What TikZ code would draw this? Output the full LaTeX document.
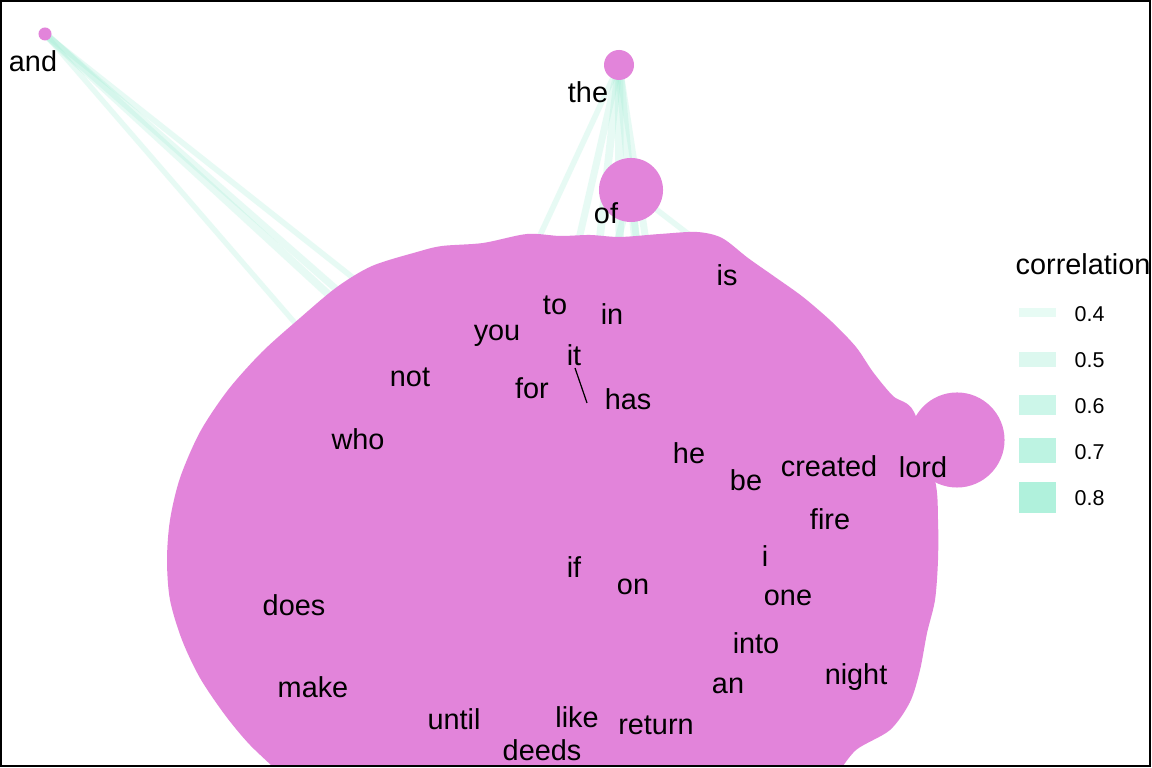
\documentclass[tikz,border=0pt]{standalone}
\usepackage{fontspec}
\setmainfont{Liberation Sans}
\definecolor{blob}{RGB}{226,132,218}
\definecolor{mint}{RGB}{150,236,208}
\definecolor{keyA}{RGB}{231,251,244}
\definecolor{keyB}{RGB}{220,248,239}
\definecolor{keyC}{RGB}{204,246,233}
\definecolor{keyD}{RGB}{189,243,226}
\definecolor{keyE}{RGB}{176,241,220}
\pgfdeclarelayer{bg}
\pgfdeclarelayer{edgelayer}
\pgfsetlayers{bg,edgelayer,main}
\begin{document}
\begin{tikzpicture}[x=0.01cm,y=-0.01cm,
    lbl/.style={font=\fontsize{8.2}{9.5}\selectfont, inner sep=0pt},
    keylbl/.style={font=\fontsize{6.1}{7}\selectfont, anchor=west, inner sep=0pt},
    vtx/.style={circle, fill=blob, inner sep=0pt, minimum size=#1},
    lnk/.style={draw=mint, line width=#1, draw opacity=0.22}]
    \useasboundingbox (0,0) rectangle (1152,768);
		\begin{pgfonlayer}{bg}
			\fill[white] (0,0) rectangle (1152,768);
		\end{pgfonlayer}
		% hidden ends inside the big cluster
		\coordinate (h1) at (419,330);
		\coordinate (h2) at (378,340);
		\coordinate (h3) at (327,360);
		\coordinate (h4) at (400,345);
		\coordinate (t1) at (510,300);
		\coordinate (t2) at (565,300);
		\coordinate (t3) at (593,300);
		\coordinate (t4) at (620,300);
		\coordinate (t5) at (641,300);
		\coordinate (t6) at (655,300);
		\coordinate (o1) at (722,260);
		\coordinate (o2) at (610,270);
		\coordinate (o3) at (640,270);
		% the merged cluster
		\begin{scope}
			\clip (1,1) rectangle (1150,766);
			\fill[blob] plot[smooth, tension=0.5] coordinates {
				(282,775) (250,745) (225,715) (200,678) (182,640) (170,600)
				(167,560) (170,520) (180,478) (200,432) (228,390) (262,352)
				(300,318) (337,287) (372,266) (417,252) (442,246) (483,243)
				(527,234) (560,236) (590,235) (620,237) (660,234) (697,232)
				(722,238) (748,258) (775,277) (803,297) (832,322) (856,347)
				(873,372) (893,396) (914,412) (935,480) (938,520) (938,560)
				(935,600) (927,633) (920,670) (910,702) (890,730) (856,750)
				(837,775)} -- (837,800) -- (282,800) -- cycle;
			\node[vtx=0.95cm] (vlord) at (957,440) {};
		\end{scope}
		\node[vtx=0.13cm] (vand) at (45,34) {};
		\node[vtx=0.30cm] (vthe) at (619,65) {};
		\node[vtx=0.64cm] (vof) at (631,190) {};
		% edges
		\begin{pgfonlayer}{edgelayer}
			\path[lnk=1.6pt] (vand.center) edge (h1);
			\path[lnk=2.2pt] (vand.center) edge (h2);
			\path[lnk=2pt] (vand.center) edge (h4);
			\path[lnk=1.5pt] (vand.center) edge (h3);
			\path[lnk=1.6pt] (vthe.center) edge (t1);
			\path[lnk=2pt] (vthe.center) edge (t2);
			\path[lnk=2.2pt] (vthe.center) edge (t3);
			\path[lnk=2.4pt] (vthe.center) edge (t4);
			\path[lnk=2.4pt] (vthe.center) edge (t5);
			\path[lnk=2pt] (vthe.center) edge (t6);
			\path[lnk=1.6pt] (vof.center) edge (o1);
			\path[lnk=2pt] (vof.center) edge (o2);
			\path[lnk=2pt] (vof.center) edge (o3);
		\end{pgfonlayer}
		% short link inside the cluster
		\coordinate (itA) at (575,368);
		\coordinate (itB) at (587,403);
		\path[draw=black, line width=0.35pt] (itA) edge (itB);
		% word labels
		\node[lbl] (and) at (33,61) {and};
		\node[lbl] (the) at (588,92) {the};
		\node[lbl] (of) at (606,213) {of};
		\node[lbl] (is) at (727,275) {is};
		\node[lbl] (to) at (555,305) {to};
		\node[lbl] (in) at (612,314) {in};
		\node[lbl] (you) at (497,336) {you};
		\node[lbl] (it) at (574,355) {it};
		\node[lbl] (not) at (410,377) {not};
		\node[lbl] (for) at (532,388) {for};
		\node[lbl] (has) at (628,399) {has};
		\node[lbl] (who) at (358,439) {who};
		\node[lbl] (he) at (689,453) {he};
		\node[lbl] (be) at (746,480) {be};
		\node[lbl] (created) at (829,466) {created};
		\node[lbl] (lord) at (923,467) {lord};
		\node[lbl] (fire) at (830,519) {fire};
		\node[lbl] (i) at (765,556) {i};
		\node[lbl] (if) at (574,567) {if};
		\node[lbl] (on) at (633,587) {on};
		\node[lbl] (one) at (788,598) {one};
		\node[lbl] (does) at (294,605) {does};
		\node[lbl] (into) at (756,643) {into};
		\node[lbl] (an) at (728,686) {an};
		\node[lbl] (night) at (856,677) {night};
		\node[lbl] (make) at (313,687) {make};
		\node[lbl] (until) at (454,719) {until};
		\node[lbl] (like) at (577,717) {like};
		\node[lbl] (return) at (656,725) {return};
		\node[lbl] (deeds) at (542,750) {deeds};
		% legend
		\node[lbl, anchor=west] (legtitle) at (1015,264) {correlation};
		\fill[keyA] (1019,308) rectangle (1056,317);
		\fill[keyB] (1019,352) rectangle (1056,367);
		\fill[keyC] (1019,395) rectangle (1056,415);
		\fill[keyD] (1019,438) rectangle (1056,463);
		\fill[keyE] (1019,482) rectangle (1056,513);
		\node[keylbl] (k4) at (1074,314) {0.4};
		\node[keylbl] (k5) at (1074,360) {0.5};
		\node[keylbl] (k6) at (1074,406) {0.6};
		\node[keylbl] (k7) at (1074,452) {0.7};
		\node[keylbl] (k8) at (1074,498) {0.8};
		% frame
		\draw[line width=0.5pt] (1,1) rectangle (1150,766);
	\end{tikzpicture}
\end{document}
